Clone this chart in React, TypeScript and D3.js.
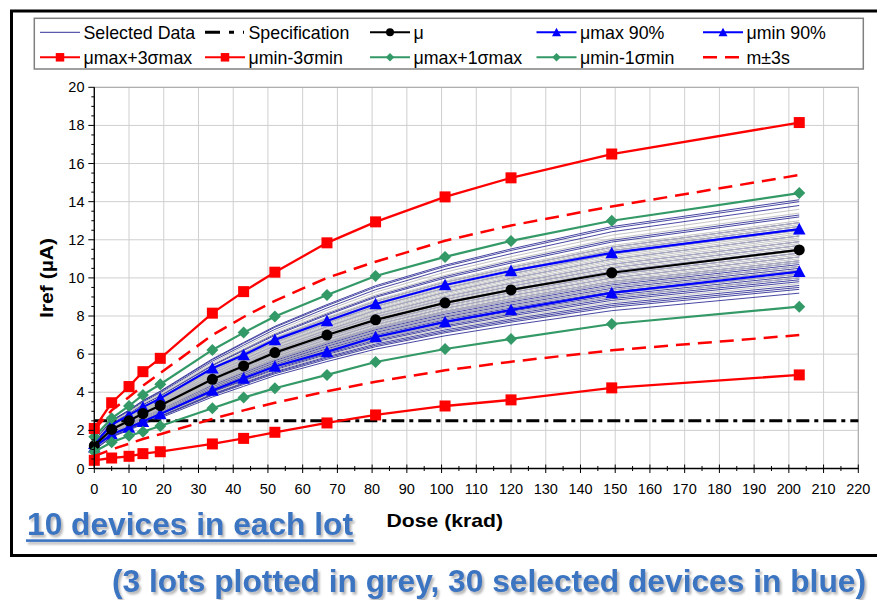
import React from 'react';
import * as d3 from 'd3';

// ---------------- data ----------------
const DOSE = [0, 5, 10, 14, 19, 34, 43, 52, 67, 81, 101, 120, 149, 203];
const SPEC = 2.5;
const MU = [1.2, 2.05, 2.5, 2.88, 3.3, 4.68, 5.38, 6.08, 7.0, 7.8, 8.69, 9.37, 10.27, 11.47];
const MU_MAX_90 = [1.3, 2.3, 2.8, 3.22, 3.68, 5.26, 5.96, 6.75, 7.74, 8.63, 9.63, 10.37, 11.31, 12.56];
const MU_MIN_90 = [1.12, 1.8, 2.15, 2.46, 2.86, 4.09, 4.73, 5.35, 6.12, 6.9, 7.69, 8.32, 9.21, 10.33];
const MU_MAX_3S = [2.1, 3.45, 4.3, 5.08, 5.78, 8.15, 9.28, 10.3, 11.84, 12.94, 14.25, 15.25, 16.5, 18.15];
const MU_MIN_3S = [0.43, 0.55, 0.64, 0.78, 0.88, 1.29, 1.58, 1.9, 2.39, 2.81, 3.28, 3.6, 4.23, 4.91];
const MU_MAX_1S = [1.67, 2.63, 3.28, 3.86, 4.42, 6.22, 7.13, 7.97, 9.1, 10.1, 11.1, 11.94, 13.0, 14.45];
const MU_MIN_1S = [0.88, 1.38, 1.72, 1.93, 2.23, 3.16, 3.72, 4.21, 4.91, 5.59, 6.27, 6.8, 7.58, 8.49];
const M_PLUS_3S = [2.05, 3.05, 3.75, 4.35, 5.0, 7.0, 7.95, 8.8, 10.0, 10.85, 11.95, 12.75, 13.75, 15.4];
const M_MINUS_3S = [0.65, 1.0, 1.3, 1.55, 1.8, 2.6, 3.05, 3.45, 4.05, 4.55, 5.15, 5.6, 6.2, 7.0];

const SELECTED = [
  [1.48, 2.52, 3.07, 3.57, 4.06, 5.75, 6.61, 7.46, 8.60, 9.59, 10.67, 11.52, 12.69, 14.1],
  [1.47, 2.51, 3.05, 3.54, 4.03, 5.71, 6.57, 7.41, 8.54, 9.52, 10.60, 11.44, 12.60, 14.0],
  [1.45, 2.47, 3.01, 3.49, 3.97, 5.63, 6.47, 7.30, 8.42, 9.38, 10.45, 11.27, 12.42, 13.8],
  [1.40, 2.38, 2.90, 3.36, 3.83, 5.43, 6.24, 7.04, 8.11, 9.04, 10.07, 10.87, 11.97, 13.3],
  [1.39, 2.36, 2.88, 3.34, 3.80, 5.39, 6.19, 6.98, 8.05, 8.98, 9.99, 10.78, 11.88, 13.2],
  [1.35, 2.31, 2.81, 3.26, 3.72, 5.26, 6.05, 6.82, 7.87, 8.77, 9.77, 10.54, 11.61, 12.9],
  [1.33, 2.27, 2.77, 3.21, 3.66, 5.18, 5.96, 6.72, 7.75, 8.64, 9.61, 10.38, 11.43, 12.7],
  [1.31, 2.24, 2.73, 3.16, 3.60, 5.10, 5.86, 6.61, 7.63, 8.50, 9.46, 10.21, 11.25, 12.5],
  [1.28, 2.18, 2.66, 3.09, 3.51, 4.98, 5.72, 6.45, 7.44, 8.30, 9.24, 9.97, 10.98, 12.2],
  [1.25, 2.13, 2.59, 3.01, 3.43, 4.86, 5.58, 6.30, 7.26, 8.09, 9.01, 9.72, 10.71, 11.9],
  [1.23, 2.09, 2.55, 2.96, 3.37, 4.77, 5.49, 6.19, 7.14, 7.96, 8.86, 9.56, 10.53, 11.7],
  [1.21, 2.06, 2.51, 2.91, 3.31, 4.69, 5.39, 6.08, 7.02, 7.82, 8.71, 9.40, 10.35, 11.5],
  [1.19, 2.02, 2.46, 2.86, 3.25, 4.61, 5.30, 5.98, 6.89, 7.68, 8.55, 9.23, 10.17, 11.3],
  [1.17, 1.99, 2.42, 2.81, 3.20, 4.53, 5.21, 5.87, 6.77, 7.55, 8.40, 9.07, 9.99, 11.1],
  [1.14, 1.95, 2.38, 2.76, 3.14, 4.45, 5.11, 5.77, 6.65, 7.41, 8.25, 8.91, 9.81, 10.9],
  [1.13, 1.93, 2.35, 2.73, 3.11, 4.41, 5.07, 5.71, 6.59, 7.34, 8.18, 8.82, 9.72, 10.8],
  [1.12, 1.92, 2.33, 2.71, 3.08, 4.37, 5.02, 5.66, 6.53, 7.28, 8.10, 8.74, 9.63, 10.7],
  [1.11, 1.90, 2.31, 2.68, 3.05, 4.32, 4.97, 5.61, 6.47, 7.21, 8.02, 8.66, 9.54, 10.6],
  [1.10, 1.88, 2.29, 2.66, 3.02, 4.28, 4.92, 5.55, 6.41, 7.14, 7.95, 8.58, 9.45, 10.5],
  [1.09, 1.86, 2.27, 2.63, 3.00, 4.24, 4.88, 5.50, 6.34, 7.07, 7.87, 8.50, 9.36, 10.4],
  [1.08, 1.84, 2.25, 2.61, 2.97, 4.20, 4.83, 5.45, 6.28, 7.00, 7.80, 8.42, 9.27, 10.3],
  [1.07, 1.83, 2.22, 2.58, 2.94, 4.16, 4.78, 5.40, 6.22, 6.94, 7.72, 8.33, 9.18, 10.2],
  [1.06, 1.81, 2.20, 2.56, 2.91, 4.12, 4.74, 5.34, 6.16, 6.87, 7.65, 8.25, 9.09, 10.1],
  [1.05, 1.79, 2.18, 2.53, 2.88, 4.08, 4.69, 5.29, 6.10, 6.80, 7.57, 8.17, 9.00, 10.0],
  [1.04, 1.77, 2.16, 2.50, 2.85, 4.04, 4.64, 5.24, 6.04, 6.73, 7.49, 8.09, 8.91, 9.9],
  [1.03, 1.75, 2.14, 2.48, 2.82, 4.00, 4.60, 5.18, 5.98, 6.66, 7.42, 8.01, 8.82, 9.8],
  [1.01, 1.72, 2.09, 2.43, 2.76, 3.92, 4.50, 5.08, 5.86, 6.53, 7.27, 7.84, 8.64, 9.6],
  [0.99, 1.70, 2.07, 2.40, 2.74, 3.88, 4.46, 5.03, 5.80, 6.46, 7.19, 7.76, 8.55, 9.5],
  [0.98, 1.68, 2.05, 2.38, 2.71, 3.84, 4.41, 4.97, 5.73, 6.39, 7.12, 7.68, 8.46, 9.4],
  [0.96, 1.65, 2.01, 2.33, 2.65, 3.75, 4.31, 4.87, 5.61, 6.26, 6.96, 7.52, 8.28, 9.2],
];

const GREY_LOTS = [
  [1.43, 2.43, 2.96, 3.44, 3.92, 5.55, 6.38, 7.19, 8.30, 9.25, 10.30, 11.11, 12.24, 13.6],
  [1.41, 2.40, 2.92, 3.39, 3.86, 5.47, 6.28, 7.09, 8.17, 9.11, 10.14, 10.95, 12.06, 13.4],
  [1.37, 2.33, 2.83, 3.29, 3.74, 5.30, 6.10, 6.88, 7.93, 8.84, 9.84, 10.62, 11.70, 13.0],
  [1.34, 2.29, 2.79, 3.24, 3.69, 5.22, 6.00, 6.77, 7.81, 8.70, 9.69, 10.46, 11.52, 12.8],
  [1.32, 2.26, 2.75, 3.19, 3.63, 5.14, 5.91, 6.67, 7.69, 8.57, 9.54, 10.29, 11.34, 12.6],
  [1.30, 2.22, 2.70, 3.14, 3.57, 5.06, 5.82, 6.56, 7.56, 8.43, 9.39, 10.13, 11.16, 12.4],
  [1.29, 2.20, 2.68, 3.11, 3.54, 5.02, 5.77, 6.51, 7.50, 8.36, 9.31, 10.05, 11.07, 12.3],
  [1.27, 2.17, 2.64, 3.06, 3.48, 4.94, 5.67, 6.40, 7.38, 8.23, 9.16, 9.89, 10.89, 12.1],
  [1.26, 2.15, 2.62, 3.04, 3.46, 4.90, 5.63, 6.35, 7.32, 8.16, 9.08, 9.80, 10.80, 12.0],
  [1.24, 2.11, 2.57, 2.99, 3.40, 4.81, 5.53, 6.24, 7.20, 8.02, 8.93, 9.64, 10.62, 11.8],
  [1.22, 2.08, 2.53, 2.93, 3.34, 4.73, 5.44, 6.14, 7.08, 7.89, 8.78, 9.48, 10.44, 11.6],
  [1.20, 2.04, 2.49, 2.88, 3.28, 4.65, 5.35, 6.03, 6.95, 7.75, 8.63, 9.31, 10.26, 11.4],
  [1.18, 2.00, 2.44, 2.83, 3.23, 4.57, 5.25, 5.92, 6.83, 7.62, 8.48, 9.15, 10.08, 11.2],
  [1.16, 1.97, 2.40, 2.78, 3.17, 4.49, 5.16, 5.82, 6.71, 7.48, 8.33, 8.99, 9.90, 11.0],
  [1.02, 1.74, 2.11, 2.45, 2.79, 3.96, 4.55, 5.13, 5.92, 6.60, 7.34, 7.92, 8.73, 9.7],
  [1.35, 2.31, 2.81, 3.26, 3.72, 5.26, 6.05, 6.82, 7.87, 8.77, 9.77, 10.54, 11.61, 12.9],
  [1.33, 2.27, 2.77, 3.21, 3.66, 5.18, 5.96, 6.72, 7.75, 8.64, 9.61, 10.38, 11.43, 12.7],
  [1.31, 2.24, 2.73, 3.16, 3.60, 5.10, 5.86, 6.61, 7.63, 8.50, 9.46, 10.21, 11.25, 12.5],
  [1.28, 2.18, 2.66, 3.09, 3.51, 4.98, 5.72, 6.45, 7.44, 8.30, 9.24, 9.97, 10.98, 12.2],
  [1.25, 2.13, 2.59, 3.01, 3.43, 4.86, 5.58, 6.30, 7.26, 8.09, 9.01, 9.72, 10.71, 11.9],
  [1.23, 2.09, 2.55, 2.96, 3.37, 4.77, 5.49, 6.19, 7.14, 7.96, 8.86, 9.56, 10.53, 11.7],
  [1.21, 2.06, 2.51, 2.91, 3.31, 4.69, 5.39, 6.08, 7.02, 7.82, 8.71, 9.40, 10.35, 11.5],
  [1.19, 2.02, 2.46, 2.86, 3.25, 4.61, 5.30, 5.98, 6.89, 7.68, 8.55, 9.23, 10.17, 11.3],
  [1.17, 1.99, 2.42, 2.81, 3.20, 4.53, 5.21, 5.87, 6.77, 7.55, 8.40, 9.07, 9.99, 11.1],
  [1.14, 1.95, 2.38, 2.76, 3.14, 4.45, 5.11, 5.77, 6.65, 7.41, 8.25, 8.91, 9.81, 10.9],
  [1.13, 1.93, 2.35, 2.73, 3.11, 4.41, 5.07, 5.71, 6.59, 7.34, 8.18, 8.82, 9.72, 10.8],
  [1.11, 1.90, 2.31, 2.68, 3.05, 4.32, 4.97, 5.61, 6.47, 7.21, 8.02, 8.66, 9.54, 10.6],
  [1.09, 1.86, 2.27, 2.63, 3.00, 4.24, 4.88, 5.50, 6.34, 7.07, 7.87, 8.50, 9.36, 10.4],
  [1.07, 1.83, 2.22, 2.58, 2.94, 4.16, 4.78, 5.40, 6.22, 6.94, 7.72, 8.33, 9.18, 10.2],
  [1.05, 1.79, 2.18, 2.53, 2.88, 4.08, 4.69, 5.29, 6.10, 6.80, 7.57, 8.17, 9.00, 10.0],
];

const X_TICKS = [0, 10, 20, 30, 40, 50, 60, 70, 80, 90, 100, 110, 120, 130, 140, 150, 160, 170, 180, 190, 200, 210, 220];
const Y_TICKS = [0, 2, 4, 6, 8, 10, 12, 14, 16, 18, 20];
const LEGEND_ROW1 = ['Selected Data', 'Specification', 'μ', 'μmax 90%', 'μmin 90%'];
const LEGEND_ROW2 = ['μmax+3σmax', 'μmin-3σmin', 'μmax+1σmax', 'μmin-1σmin', 'm±3s'];
const X_TITLE = 'Dose (krad)';
const Y_TITLE = 'Iref (µA)';
const NOTE1 = '10 devices in each lot';
const NOTE2 = '(3 lots plotted in grey, 30 selected devices in blue)';

// ---------------- styles ----------------
const RED = '#ff0000';
const GREEN = '#339966';
const BLUE = '#0000ff';
const NAVY = '#333399';
const GREY = '#c0c0c0';
const NOTE_BLUE = '#3a74c2';
const FONT = "'Liberation Sans', Arial, Helvetica, sans-serif";

type MType = 'square' | 'diamond' | 'triangle' | 'circle' | 'none';

function Marker({ t, cx, cy, color, s }: { t: MType; cx: number; cy: number; color: string; s: number }) {
  if (t === 'square') return <rect x={cx - s / 2} y={cy - s / 2} width={s} height={s} fill={color} />;
  if (t === 'circle') return <circle cx={cx} cy={cy} r={s / 2} fill={color} />;
  if (t === 'diamond') {
    const h = s / 2;
    return <path d={`M${cx},${cy - h}L${cx + h},${cy}L${cx},${cy + h}L${cx - h},${cy}Z`} fill={color} />;
  }
  if (t === 'triangle') {
    const h = s / 2;
    return <path d={`M${cx},${cy - h}L${cx + h},${cy + h * 0.85}L${cx - h},${cy + h * 0.85}Z`} fill={color} />;
  }
  return null;
}

export default function App() {
  const x0 = 94.3, x1 = 858.3, y0 = 468.5, y1 = 87.3;
  const x = d3.scaleLinear().domain([0, 220]).range([x0, x1]);
  const y = d3.scaleLinear().domain([0, 20]).range([y0, y1]);
  const line = d3.line<number>().x((_, i) => x(DOSE[i])).y((d) => y(d));

  const series: { data: number[]; color: string; w: number; m: MType; ms: number; dash?: string }[] = [
    { data: MU_MAX_90, color: BLUE, w: 2.2, m: 'triangle', ms: 12.5 },
    { data: MU_MIN_90, color: BLUE, w: 2.2, m: 'triangle', ms: 12.5 },
    { data: MU, color: '#000', w: 2.2, m: 'circle', ms: 11 },
    { data: MU_MAX_1S, color: GREEN, w: 2.2, m: 'diamond', ms: 12 },
    { data: MU_MIN_1S, color: GREEN, w: 2.2, m: 'diamond', ms: 12 },
    { data: MU_MAX_3S, color: RED, w: 2.3, m: 'square', ms: 11 },
    { data: MU_MIN_3S, color: RED, w: 2.3, m: 'square', ms: 11 },
    { data: M_PLUS_3S, color: RED, w: 2.5, m: 'none', ms: 0, dash: '14,8' },
    { data: M_MINUS_3S, color: RED, w: 2.5, m: 'none', ms: 0, dash: '14,8' },
  ];

  const xMinor = d3.range(0, 221, 5);
  const yMinor = d3.range(0, 20.01, 0.5);

  // legend layout
  const colX = [40, 205, 370, 536.5, 703];
  const rowY = [32.3, 57.3];
  const legendSamples1: { color: string; w: number; m: MType; dash?: string; ms: number }[] = [
    { color: NAVY, w: 1, m: 'none', ms: 0 },
    { color: '#000', w: 3, m: 'none', ms: 0, dash: '15,9,5,9,1,9' },
    { color: '#000', w: 2, m: 'circle', ms: 8 },
    { color: BLUE, w: 2, m: 'triangle', ms: 9 },
    { color: BLUE, w: 2, m: 'triangle', ms: 9 },
  ];
  const legendSamples2: { color: string; w: number; m: MType; dash?: string; ms: number }[] = [
    { color: RED, w: 2, m: 'square', ms: 8.5 },
    { color: RED, w: 2, m: 'square', ms: 8.5 },
    { color: GREEN, w: 2, m: 'diamond', ms: 8.5 },
    { color: GREEN, w: 2, m: 'diamond', ms: 8.5 },
    { color: RED, w: 2.5, m: 'none', ms: 0, dash: '14,8' },
  ];

  const renderLegendItem = (label: string, s: any, ci: number, ri: number) => {
    const lx = colX[ci];
    const cy = rowY[ri];
    return (
      <g key={`lg-${ri}-${ci}`}>
        <line x1={lx} x2={lx + 40} y1={cy} y2={cy} stroke={s.color} strokeWidth={s.w} strokeDasharray={s.dash} />
        <Marker t={s.m} cx={lx + 20} cy={cy} color={s.color} s={s.ms} />
        <text x={lx + 43.5} y={cy + 6.2} fontSize={17.8} fill="#000">{label}</text>
      </g>
    );
  };

  return (
    <svg width={877} height={600} style={{ position: 'absolute', left: 0, top: 0, background: '#fff' }} fontFamily={FONT}>
      <defs>
        <filter id="shadow" x="-5%" y="-20%" width="110%" height="150%">
          <feDropShadow dx="2" dy="2.5" stdDeviation="1.2" floodColor="#7a7a7a" floodOpacity="0.55" />
        </filter>
      </defs>
      <rect x={0} y={0} width={877} height={600} fill="#fff" />

      {/* outer frame */}
      <rect x={11.5} y={11} width={900} height={544.5} fill="none" stroke="#000" strokeWidth={3} />

      {/* legend */}
      <rect x={34.3} y={18.3} width={829} height={50.7} fill="#fff" stroke="#808080" strokeWidth={1.5} />
      {LEGEND_ROW1.map((l, i) => renderLegendItem(l, legendSamples1[i], i, 0))}
      {LEGEND_ROW2.map((l, i) => renderLegendItem(l, legendSamples2[i], i, 1))}

      {/* gridlines */}
      {X_TICKS.map((t) => (
        <line key={`gx${t}`} x1={x(t)} x2={x(t)} y1={y1} y2={y0} stroke="#cfcfcf" strokeWidth={1} />
      ))}
      {Y_TICKS.map((t) => (
        <line key={`gy${t}`} x1={x0} x2={x1} y1={y(t)} y2={y(t)} stroke="#cfcfcf" strokeWidth={1} />
      ))}
      <rect x={x0} y={y1} width={x1 - x0} height={y0 - y1} fill="none" stroke="#a6a6a6" strokeWidth={1} />

      {/* device lines */}
      <g fill="none">
        {SELECTED.map((d, i) => (
          <path key={`s${i}`} d={line(d) || ''} stroke={NAVY} strokeWidth={0.9} />
        ))}
        {GREY_LOTS.map((d, i) => (
          <path key={`g${i}`} d={line(d) || ''} stroke={GREY} strokeWidth={0.9} />
        ))}
      </g>

      {/* specification */}
      <line x1={x(0)} x2={x(220)} y1={y(SPEC)} y2={y(SPEC)} stroke="#000" strokeWidth={3} strokeDasharray="13,5,4,5" />

      {/* statistical series */}
      {series.map((s, si) => (
        <g key={`ser${si}`}>
          <path d={line(s.data) || ''} fill="none" stroke={s.color} strokeWidth={s.w} strokeDasharray={s.dash} />
          {s.m !== 'none' &&
            s.data.map((v, i) => <Marker key={i} t={s.m} cx={x(DOSE[i])} cy={y(v)} color={s.color} s={s.ms} />)}
        </g>
      ))}

      {/* axes */}
      <line x1={x0} x2={x0} y1={y1} y2={y0} stroke="#000" strokeWidth={1.3} />
      <line x1={x0} x2={x1} y1={y0} y2={y0} stroke="#000" strokeWidth={1.3} />
      {yMinor.map((t) => {
        const major = Math.abs(t / 2 - Math.round(t / 2)) < 1e-6;
        return <line key={`yt${t}`} x1={x0 - (major ? 6 : 3)} x2={x0} y1={y(t)} y2={y(t)} stroke="#000" strokeWidth={1} />;
      })}
      {xMinor.map((t) => {
        const major = t % 10 === 0;
        return (
          <line key={`xt${t}`} x1={x(t)} x2={x(t)} y1={y0 - (major ? 4 : 2.5)} y2={y0 + (major ? 4.5 : 2.5)} stroke="#000" strokeWidth={1} />
        );
      })}
      {Y_TICKS.map((t) => (
        <text key={`yl${t}`} x={84.5} y={y(t) + 5} fontSize={14.5} textAnchor="end" fill="#000">{t}</text>
      ))}
      {X_TICKS.map((t) => (
        <text key={`xl${t}`} x={x(t)} y={494} fontSize={14.5} textAnchor="middle" fill="#000">{t}</text>
      ))}

      {/* axis titles */}
      <text transform="translate(52.5,278) rotate(-90)" textAnchor="middle" fontSize={19} fontWeight="bold" textLength={80} lengthAdjust="spacingAndGlyphs">{Y_TITLE}</text>
      <text x={386.5} y={527} fontSize={19} fontWeight="bold" textLength={116.5} lengthAdjust="spacingAndGlyphs">{X_TITLE}</text>

      {/* notes */}
      <g filter="url(#shadow)">
        <text x={27} y={535} fontSize={32} fontWeight="bold" fill={NOTE_BLUE} textLength={326} lengthAdjust="spacingAndGlyphs">{NOTE1}</text>
        <rect x={26} y={539.3} width={327.5} height={2.6} fill={NOTE_BLUE} />
        <text x={112} y={592} fontSize={32} fontWeight="bold" fill={NOTE_BLUE} textLength={754} lengthAdjust="spacingAndGlyphs">{NOTE2}</text>
      </g>
    </svg>
  );
}
